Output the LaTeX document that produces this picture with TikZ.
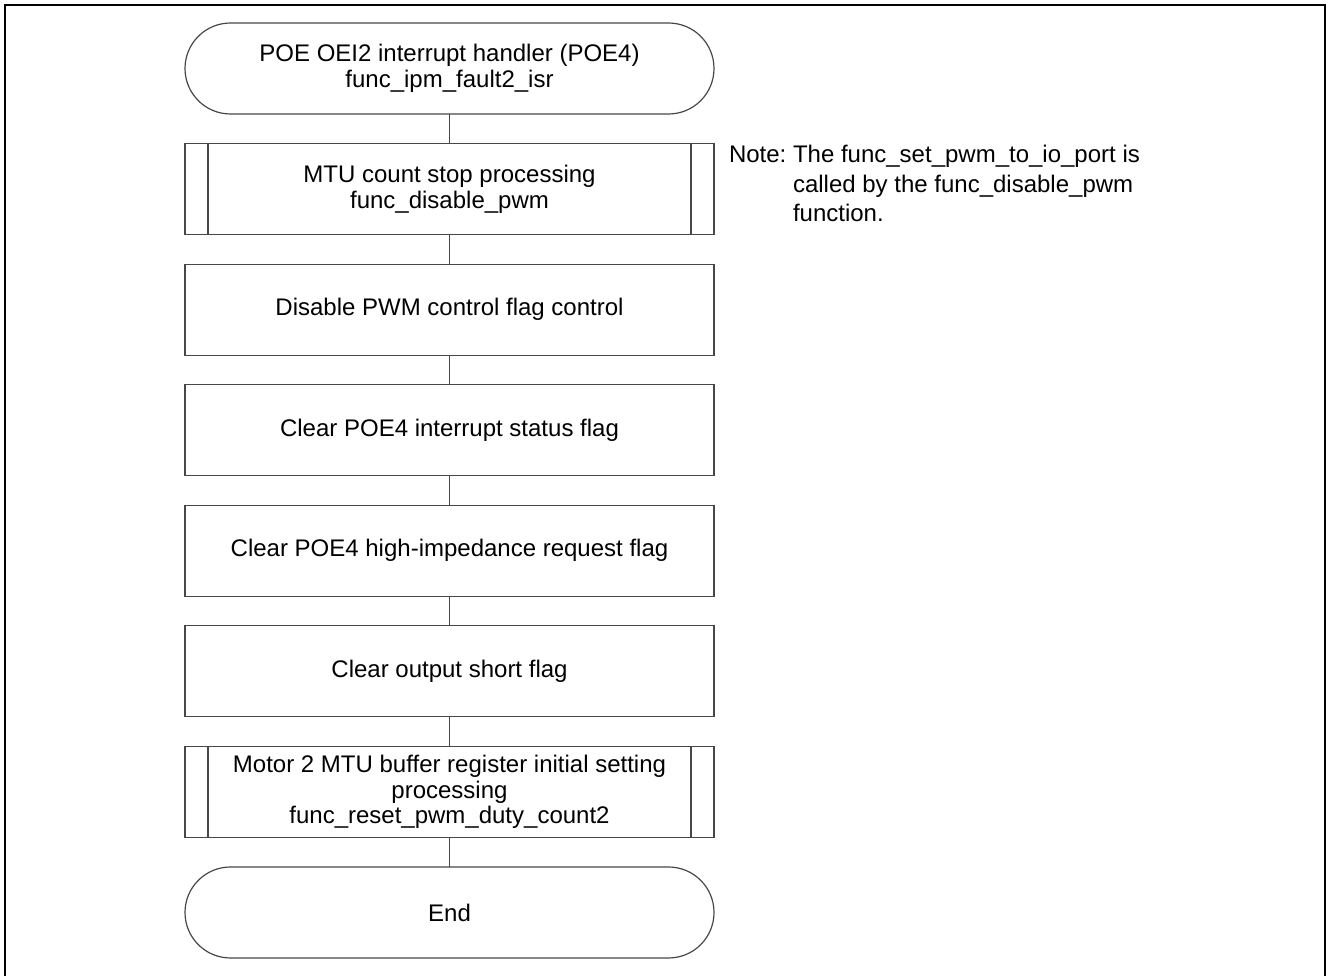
\documentclass[tikz,border=0pt]{standalone}
\usepackage{fontspec}
\setmainfont{Liberation Sans}
\usetikzlibrary{calc}
\tikzset{
  flowline/.style={line width=1.2pt, draw=black!72},
  procbox/.style={flowline, rectangle, minimum width=529pt, minimum height=91pt, inner sep=0pt, outer sep=0pt, align=center, font=\fontsize{24}{25.5}\selectfont},
  termbox/.style={procbox, rounded corners=45.5pt},
  notetext/.style={inner sep=0pt, outer sep=0pt, font=\fontsize{24}{29.5}\selectfont},
  frameline/.style={line width=2.4pt, draw=black}
}
\begin{document}
\begin{tikzpicture}[x=1pt, y=-1pt]
\useasboundingbox (0,0) rectangle (1328,976);
\draw[frameline] (5,990) -- (5,5) -- (1325,5) -- (1325,990);

\node[termbox] (t1) at (449.5,68.5) {POE OEI2 interrupt handler (POE4)\\func\_ipm\_fault2\_isr};
\node[procbox] (b1) at (449.5,189.07) {MTU count stop processing\\func\_disable\_pwm};
\node[procbox] (b2) at (449.5,309.64) {Disable PWM control flag control};
\node[procbox] (b3) at (449.5,430.21) {Clear POE4 interrupt status flag};
\node[procbox] (b4) at (449.5,550.78) {Clear POE4 high-impedance request flag};
\node[procbox] (b5) at (449.5,671.35) {Clear output short flag};
\node[procbox] (b6) at (449.5,791.92) {Motor 2 MTU buffer register initial setting\\processing\\func\_reset\_pwm\_duty\_count2};
\node[termbox] (t2) at (449.5,912.49) {End};

\foreach \n in {b1,b6}{
  \draw[flowline] ($(\n.north west)+(23,0)$) -- ($(\n.south west)+(23,0)$);
  \draw[flowline] ($(\n.north east)+(-23,0)$) -- ($(\n.south east)+(-23,0)$);
}

\draw[flowline] (t1) -- (b1);
\draw[flowline] (b1) -- (b2);
\draw[flowline] (b2) -- (b3);
\draw[flowline] (b3) -- (b4);
\draw[flowline] (b4) -- (b5);
\draw[flowline] (b5) -- (b6);
\draw[flowline] (b6) -- (t2);

\node[notetext, anchor=base west] (note) at (729,163) {\begin{tabular}[t]{@{}l@{\ }l@{}}Note: & The func\_set\_pwm\_to\_io\_port is\\ & called by the func\_disable\_pwm\\ & function.\end{tabular}};
\end{tikzpicture}
\end{document}
